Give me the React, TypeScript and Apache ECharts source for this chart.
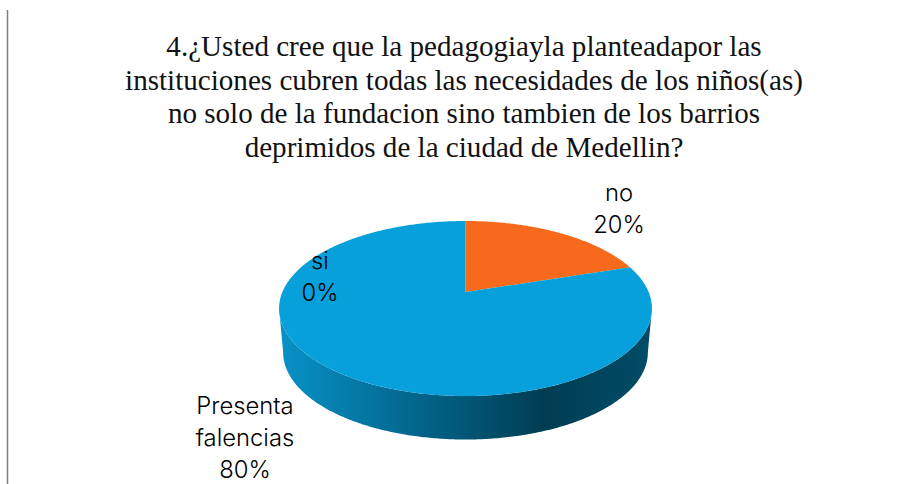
import React, { useEffect, useRef } from "react";
import * as echarts from "echarts";

const titleLines = [
  "4.¿Usted cree que la pedagogiayla planteadapor las",
  "instituciones cubren todas las necesidades de los niños(as)",
  "no solo de la fundacion sino tambien de los barrios",
  "deprimidos de la ciudad de Medellin?",
];
const categories = ["no", "Presenta\nfalencias", "si"];
const values = [20, 80, 0];
const sliceColors = ["#F7691B", "#08A0DA", "#B0B0B0"];
const labelAnchors = [
  [619, 208.5],
  [245, 437.5],
  [320, 276],
];

const total = values.reduce((a, b) => a + b, 0);
const CX = 465.5;
const AY = 292;
const KX = 183.1;
const KY = 84.4;
const K = 0.1887;
const DEPTH = 44;
const LABEL_LINE = 32;

function project(theta: number, r: number, bottom: boolean): number[] {
  const u = r * Math.sin(theta);
  const v = r * Math.cos(theta);
  const w = 1 + K * v;
  if (!bottom) return [CX + (KX * u) / w, AY - (KY * v) / w];
  return [CX + ((KX * u) / w) * 0.978, AY + DEPTH - ((KY * v) / w) * 0.995];
}

function arcPoints(a0: number, a1: number, bottom: boolean): number[][] {
  const n = Math.max(2, Math.ceil(Math.abs(a1 - a0) / 0.01));
  const pts: number[][] = [];
  for (let i = 0; i <= n; i++) pts.push(project(a0 + ((a1 - a0) * i) / n, 1, bottom));
  return pts;
}

function extremeAngle(sign: number, bottom: boolean): number {
  let best = 0;
  let bestX = -Infinity;
  for (let a = 0; a < Math.PI * 2; a += 0.002) {
    const x = sign * project(a, 1, bottom)[0];
    if (x > bestX) {
      bestX = x;
      best = a;
    }
  }
  return best;
}

function renderItem(params: any, api: any) {
  const i = params.dataIndex;
  const value = api.value(0) as number;
  const before = values.slice(0, i).reduce((a, b) => a + b, 0);
  const a0 = (before / total) * Math.PI * 2;
  const a1 = ((before + value) / total) * Math.PI * 2;
  const children: any[] = [];
  if (value > 0) {
    if (a1 > Math.PI * 1.5) {
      const top = arcPoints(extremeAngle(1, false), extremeAngle(-1, false), false);
      const bot = arcPoints(extremeAngle(-1, true), extremeAngle(1, true), true);
      children.push({
        type: "polygon",
        shape: { points: top.concat(bot) },
        style: {
          fill: new echarts.graphic.LinearGradient(0, 0, 1, 0, [
            { offset: 0, color: "#0892C8" },
            { offset: 0.32, color: "#046B93" },
            { offset: 0.71, color: "#003D53" },
            { offset: 1, color: "#024C67" },
          ]),
        },
      });
    }
    const face = [project(0, 0, false)].concat(arcPoints(a0, a1, false));
    children.push({
      type: "polygon",
      shape: { points: face },
      style: { fill: sliceColors[i] },
    });
  }
  const pct = Math.round((value / total) * 100);
  const lines = `${categories[i]}\n${pct}%`.split("\n");
  lines.forEach((line, j) => {
    children.push({
      type: "text",
      z2: 10,
      style: {
        text: line,
        x: labelAnchors[i][0],
        y: labelAnchors[i][1] + (j - (lines.length - 1) / 2) * LABEL_LINE,
        align: "center",
        verticalAlign: "middle",
        font: "300 23.8px Inter, sans-serif",
        lineHeight: 24,
        fill: "#000000",
      },
    });
  });
  return { type: "group", children };
}

export default function App() {
  const ref = useRef<HTMLDivElement>(null);
  useEffect(() => {
    document.body.style.margin = "0";
    const chart = echarts.init(ref.current!, undefined, { renderer: "svg" });
    chart.setOption({
      animation: false,
      backgroundColor: "#FFFFFF",
      title: {
        text: titleLines.join("\n"),
        left: 459,
        top: 24,
        textAlign: "center",
        textStyle: {
          fontFamily: "Liberation Serif",
          fontWeight: "normal",
          fontSize: 29.1,
          lineHeight: 33.7,
          color: "#111111",
        },
      },
      graphic: [
        {
          type: "line",
          shape: { x1: 7.5, y1: 10, x2: 7.5, y2: 484 },
          style: { stroke: "#808080", lineWidth: 1.5 },
        },
      ],
      series: [
        {
          type: "custom",
          coordinateSystem: "none",
          renderItem,
          data: values.map((v, i) => ({ name: categories[i], value: [v] })),
        },
      ],
    });
    return () => chart.dispose();
  }, []);
  return <div ref={ref} style={{ width: 907, height: 484 }} />;
}
